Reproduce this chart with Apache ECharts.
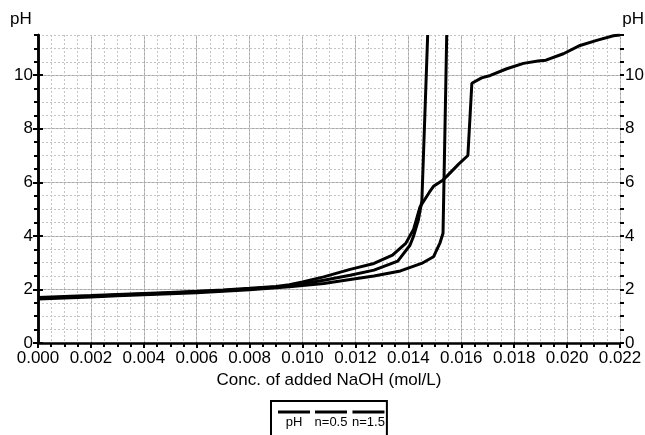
<!DOCTYPE html>
<html>
<head>
<meta charset="utf-8">
<script src="https://cdn.jsdelivr.net/npm/echarts@6/dist/echarts.min.js"></script>
<style>
  html, body { margin: 0; padding: 0; background: #fff; }
  #chart { width: 645px; height: 435px; }
</style>
</head>
<body>
<div id="chart"></div>
<script>
// titration curves
const names = ['pH', 'n=0.5', 'n=1.5']

// x = conc. of added NaOH (mol/L), y = pH
const phX = [0, 0.001, 0.002, 0.003, 0.004, 0.005, 0.006, 0.007, 0.008, 0.009, 0.0095, 0.010, 0.0108, 0.0118, 0.0127, 0.0134, 0.0139, 0.0142, 0.01444, 0.0148, 0.01495, 0.0153, 0.01545, 0.0159, 0.01625, 0.0164, 0.01677, 0.0171, 0.01772, 0.01835, 0.0189, 0.0192, 0.01986, 0.02049, 0.02112, 0.02175, 0.022]
const phY = [1.70, 1.74, 1.77, 1.81, 1.85, 1.89, 1.93, 1.98, 2.04, 2.11, 2.18, 2.28, 2.47, 2.75, 2.97, 3.28, 3.72, 4.25, 5.08, 5.64, 5.85, 6.08, 6.22, 6.68, 7.0, 9.70, 9.90, 9.99, 10.24, 10.44, 10.53, 10.56, 10.80, 11.11, 11.30, 11.47, 11.5]

const n05X = [0, 0.001, 0.002, 0.003, 0.004, 0.005, 0.006, 0.007, 0.008, 0.009, 0.0095, 0.010, 0.0108, 0.0118, 0.0127, 0.0136, 0.01406, 0.0142, 0.01438, 0.01451, 0.01473]
const n05Y = [1.67, 1.71, 1.75, 1.79, 1.83, 1.87, 1.91, 1.96, 2.02, 2.09, 2.14, 2.21, 2.34, 2.53, 2.72, 3.06, 3.65, 4.0, 4.6, 5.3, 11.5]

const n15X = [0, 0.001, 0.002, 0.003, 0.004, 0.005, 0.006, 0.007, 0.008, 0.009, 0.0095, 0.010, 0.0108, 0.0118, 0.0127, 0.0137, 0.0145, 0.01495, 0.0152, 0.01531, 0.01545]
const n15Y = [1.64, 1.68, 1.72, 1.76, 1.80, 1.84, 1.88, 1.93, 1.99, 2.06, 2.10, 2.15, 2.22, 2.37, 2.50, 2.69, 2.97, 3.22, 3.75, 4.1, 11.5]

const xTickLabels = ['0.000', '0.002', '0.004', '0.006', '0.008', '0.010', '0.012', '0.014', '0.016', '0.018', '0.020', '0.022']

const font = 'Liberation Sans, Arial, sans-serif'
const black = '#000'

const zip = (xs, ys) => xs.map((x, i) => [x, ys[i]])

// main axes: labels + solid grid, minor axes: ticks + dotted grid
const majorX = {
  type: 'value', min: 0, max: 0.022, interval: 0.002, position: 'bottom',
  axisLine: { show: true, lineStyle: { color: black, width: 2.5 } },
  axisTick: { show: true, length: 5, lineStyle: { color: black, width: 2 } },
  axisLabel: {
    color: black, fontSize: 17, fontFamily: font, margin: 7,
    formatter: v => xTickLabels[Math.round(v / 0.002)]
  },
  splitLine: { show: true, lineStyle: { color: '#a8a8a8', width: 1 } },
  name: 'Conc. of added NaOH (mol/L)',
  nameLocation: 'middle',
  nameGap: 28,
  nameTextStyle: { color: black, fontSize: 17, fontFamily: font }
}
const minorX = {
  type: 'value', min: 0, max: 0.022, interval: 0.0005, position: 'bottom',
  axisLine: { show: false },
  axisTick: { show: true, length: 4, lineStyle: { color: black, width: 2 } },
  axisLabel: { show: false },
  splitLine: { show: true, lineStyle: { color: '#c4c4c4', width: 1, type: [2, 2] } }
}

const yAxisOf = (pos, major) => major ? {
  type: 'value', min: 0, max: 11.5, interval: 2, position: pos,
  axisLine: { show: true, lineStyle: { color: black, width: 2.5 } },
  axisTick: { show: true, length: 5, lineStyle: { color: black, width: 2 } },
  axisLabel: { color: black, fontSize: 17, fontFamily: font, margin: 5, showMaxLabel: false },
  splitLine: { show: pos === 'left', showMaxLine: false, lineStyle: { color: '#a8a8a8', width: 1 } }
} : {
  type: 'value', min: 0, max: 11.5, interval: 0.5, position: pos,
  axisLine: { show: false },
  axisTick: { show: true, length: 4, lineStyle: { color: black, width: 2 } },
  axisLabel: { show: false },
  splitLine: { show: pos === 'left', lineStyle: { color: '#c4c4c4', width: 1, type: [2, 2] } }
}

const lineSeries = (name, data) => ({
  name, type: 'line', data,
  xAxisIndex: 0, yAxisIndex: 0,
  showSymbol: false, symbol: 'none',
  lineStyle: { color: black, width: 3 },
  itemStyle: { color: black },
  animation: false
})

const nameStyle = { color: black, fontSize: 17, fontFamily: font, fontWeight: 'normal' }

const option = {
  backgroundColor: '#fff',
  animation: false,
  // the "pH" names over both y axes
  title: [
    { text: 'pH', left: 10, top: 11, padding: 0, textStyle: nameStyle },
    { text: 'pH', right: 1, top: 11, padding: 0, textStyle: nameStyle }
  ],
  grid: { left: 38, right: 25, top: 35, bottom: 92, containLabel: false, outerBoundsMode: 'none' },
  xAxis: [majorX, minorX],
  yAxis: [yAxisOf('left', true), yAxisOf('right', true), yAxisOf('left', false), yAxisOf('right', false)],
  // legend: short line above each name, inside a box cut by the bottom edge
  legend: {
    data: names,
    left: 271, top: 401,
    orient: 'horizontal',
    icon: 'none',
    itemWidth: 0, itemHeight: 0,
    itemGap: 0,
    selectedMode: false,
    borderColor: black, borderWidth: 2,
    padding: [5, 2, 30, 2],
    formatter: n => '{l|}\n{t|' + n + '}',
    textStyle: {
      rich: {
        l: { width: 32, height: 3, backgroundColor: black, lineHeight: 5 },
        t: { width: 32, align: 'center', fontSize: 13, fontFamily: font, color: black, lineHeight: 15, padding: [1, 0, 0, 0] }
      }
    }
  },
  series: [
    lineSeries(names[0], zip(phX, phY)),
    lineSeries(names[1], zip(n05X, n05Y)),
    lineSeries(names[2], zip(n15X, n15Y))
  ]
}

const chart = echarts.init(document.getElementById('chart'), null, { renderer: 'canvas' })
chart.setOption(option)
</script>
</body>
</html>
